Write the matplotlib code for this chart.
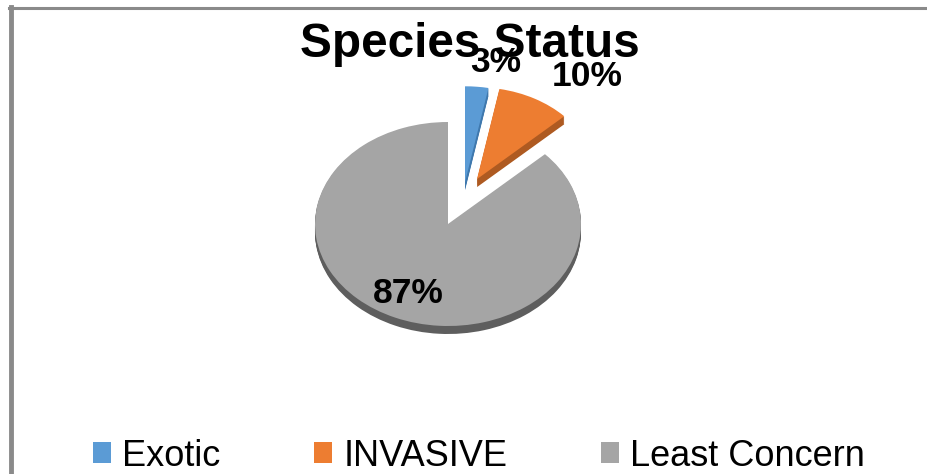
import matplotlib
matplotlib.use("Agg")
import matplotlib.pyplot as plt
from matplotlib.patches import Patch
from matplotlib.lines import Line2D
from matplotlib.transforms import Affine2D

# Data
categories = ["Exotic", "INVASIVE", "Least Concern"]
shares = [3, 10, 87]
pct_labels = ["3%", "10%", "87%"]

colors = ["#5B9BD5", "#ED7D31", "#A5A5A5"]
side_colors = ["#3F78AD", "#AE5A21", "#5E5E5E"]

W, H = 927, 474
FONT = ["Liberation Sans", "DejaVu Sans"]
plt.rcParams["font.family"] = FONT

fig = plt.figure(figsize=(W / 100, H / 100), dpi=100)
ax = fig.add_axes([0, 0, 1, 1])

# pixel layout of the tilted pie (centre and radii of the top face)
cx, cy, rx, ry = 448, 224, 133, 102

# explode offsets (data units), perspective shrink and depth of the 3D side
offsets = [(0.128, 0.41), (0.218, 0.44), (0.0, 0.0)]
shrink = [0.94, 0.9, 1.0]
depth = 8 / ry
steps = 8


def place(wedges, dy=0.0):
    for w, (ox, oy), s in zip(wedges, offsets, shrink):
        w.set_transform(Affine2D().scale(s).translate(ox, oy + dy) + ax.transData)
        w.set_clip_on(False)


# side faces: stacked shifted copies of each wedge
for k in range(steps, 0, -1):
    wedges, _ = ax.pie(shares, colors=side_colors, startangle=90,
                       counterclock=False, radius=1, frame=True)
    place(wedges, -depth * k / steps)

# top faces
wedges, _ = ax.pie(shares, colors=colors, startangle=90,
                   counterclock=False, radius=1, frame=True)
place(wedges)

ax.set_xlim((0 - cx) / rx, (W - cx) / rx)
ax.set_ylim((cy - H) / ry, cy / ry)
ax.set_aspect("auto")
ax.axis("off")

# title
fig.text(470 / W, 1 - 57 / H, "Species Status", ha="center", va="baseline",
         fontsize=34.4, fontweight="bold", zorder=1)

# percentage labels (pixel positions of the label baselines)
label_pos = [(496, 72), (587, 86), (408, 303)]
for txt, (px, py) in zip(pct_labels, label_pos):
    ax.text((px - cx) / rx, (cy - py) / ry, txt, ha="center", va="baseline",
            fontsize=25.5, fontweight="bold", zorder=10)

# legend
handles = [Patch(facecolor=c, edgecolor="none") for c in colors]
fig.legend(handles, categories, loc="center", bbox_to_anchor=(479 / W, 1 - 456 / H),
           ncol=3, frameon=False, fontsize=26, handlelength=0.5, handleheight=0.5,
           handletextpad=0.3, columnspacing=2.6, borderpad=0, borderaxespad=0)

# chart area border (top and left edges visible)
fig.add_artist(Line2D([8.5 / W, 1], [1 - 8 / H, 1 - 8 / H], color="#8A8A8A", lw=2.2,
                      transform=fig.transFigure))
fig.add_artist(Line2D([10.5 / W, 10.5 / W], [0, 1 - 7 / H], color="#8A8A8A", lw=3.5,
                      transform=fig.transFigure))

fig.savefig("out.png", dpi=100)
